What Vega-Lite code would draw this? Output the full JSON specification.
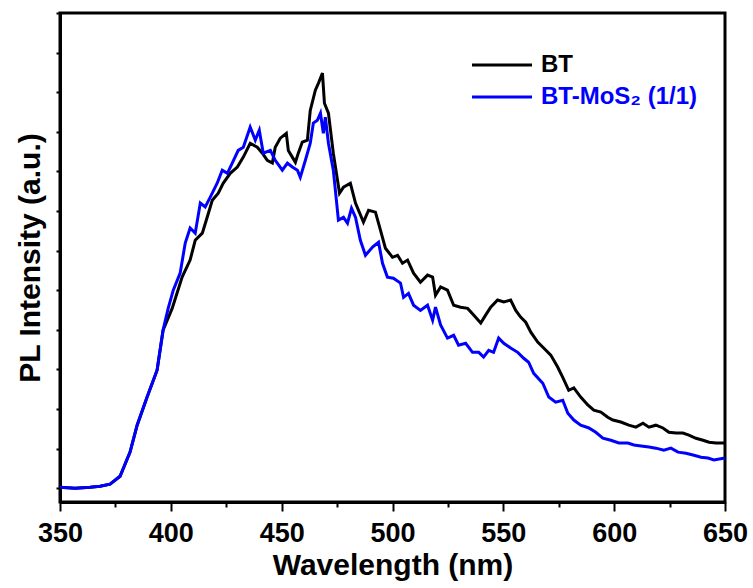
{
  "$schema": "https://vega.github.io/schema/vega-lite/v6.json",
  "width": 665,
  "height": 489,
  "autosize": {"type": "none"},
  "padding": {"left": 60, "top": 13, "right": 28, "bottom": 86},
  "background": "white",
  "config": {"view": {"stroke": "black", "strokeWidth": 3}, "font": "Liberation Sans"},
  "datasets": {
    "bt": [
      {"w":350,"i":2},{"w":356.8,"i":0},{"w":363.6,"i":2},{"w":368.1,"i":5},{"w":372.6,"i":10},{"w":377.1,"i":30},{"w":381.6,"i":91},{"w":384.8,"i":159},{"w":389.3,"i":230},{"w":393.8,"i":298},{"w":396.5,"i":399},{"w":400.6,"i":454},{"w":405.1,"i":533},{"w":408.7,"i":576},{"w":411,"i":626},{"w":414.2,"i":644},{"w":416.4,"i":684},{"w":418.7,"i":727},{"w":421.4,"i":745},{"w":423.6,"i":770},{"w":426.8,"i":795},{"w":430,"i":811},{"w":432.7,"i":836},{"w":435.8,"i":871},{"w":439,"i":861},{"w":441.3,"i":846},{"w":443.5,"i":828},{"w":445.8,"i":821},{"w":447.1,"i":861},{"w":449.4,"i":884},{"w":452.1,"i":896},{"w":453,"i":853},{"w":454.8,"i":836},{"w":456.2,"i":823},{"w":457.5,"i":846},{"w":459.3,"i":874},{"w":461.6,"i":879},{"w":462.9,"i":954},{"w":465.2,"i":1005},{"w":466.6,"i":1023},{"w":468.4,"i":1048},{"w":469.3,"i":972},{"w":471.1,"i":947},{"w":473.3,"i":846},{"w":476.1,"i":745},{"w":477.9,"i":760},{"w":481,"i":770},{"w":483.3,"i":720},{"w":486.9,"i":672},{"w":489.2,"i":702},{"w":492.3,"i":697},{"w":494.6,"i":651},{"w":496.8,"i":606},{"w":500,"i":583},{"w":502.3,"i":588},{"w":504.5,"i":568},{"w":506.8,"i":576},{"w":509.5,"i":543},{"w":512.6,"i":520},{"w":515.8,"i":538},{"w":518.1,"i":533},{"w":519.4,"i":487},{"w":521.7,"i":508},{"w":524.8,"i":500},{"w":527.6,"i":462},{"w":530.7,"i":457},{"w":533.9,"i":454},{"w":536.6,"i":437},{"w":539.8,"i":417},{"w":542,"i":437},{"w":544.3,"i":457},{"w":547.4,"i":475},{"w":550.2,"i":470},{"w":553.3,"i":475},{"w":555.6,"i":449},{"w":557.8,"i":432},{"w":560.1,"i":419},{"w":562.4,"i":394},{"w":565.5,"i":369},{"w":568.2,"i":354},{"w":571.4,"i":336},{"w":574.5,"i":306},{"w":576.8,"i":280},{"w":579.5,"i":247},{"w":581.8,"i":253},{"w":584.9,"i":230},{"w":588.1,"i":210},{"w":590.8,"i":197},{"w":594,"i":192},{"w":597.1,"i":179},{"w":599.4,"i":172},{"w":603,"i":167},{"w":606.6,"i":159},{"w":609.8,"i":154},{"w":613,"i":164},{"w":615.7,"i":154},{"w":618.8,"i":159},{"w":622,"i":152},{"w":624.7,"i":141},{"w":627.9,"i":139},{"w":631,"i":139},{"w":633.7,"i":134},{"w":636.9,"i":126},{"w":640.1,"i":121},{"w":642.8,"i":116},{"w":646,"i":114},{"w":650,"i":114}
    ],
    "mos": [
      {"w":350,"i":2},{"w":356.8,"i":0},{"w":363.6,"i":2},{"w":368.1,"i":5},{"w":372.6,"i":10},{"w":377.1,"i":30},{"w":381.6,"i":91},{"w":384.8,"i":159},{"w":389.3,"i":230},{"w":393.8,"i":298},{"w":396.5,"i":399},{"w":398.8,"i":454},{"w":401.1,"i":500},{"w":404.2,"i":543},{"w":406.5,"i":619},{"w":408.7,"i":657},{"w":411,"i":644},{"w":413.3,"i":720},{"w":415.5,"i":710},{"w":417.8,"i":735},{"w":420.9,"i":770},{"w":423.2,"i":803},{"w":425.5,"i":795},{"w":427.7,"i":821},{"w":430.4,"i":853},{"w":432.7,"i":861},{"w":435.8,"i":912},{"w":438.1,"i":879},{"w":439.9,"i":904},{"w":441.7,"i":846},{"w":444.9,"i":853},{"w":447.1,"i":828},{"w":450.3,"i":803},{"w":452.6,"i":821},{"w":454.8,"i":811},{"w":457.1,"i":803},{"w":458.4,"i":785},{"w":460.7,"i":828},{"w":462.9,"i":871},{"w":464.3,"i":922},{"w":466.1,"i":929},{"w":467.5,"i":947},{"w":468.8,"i":896},{"w":469.7,"i":937},{"w":471.1,"i":871},{"w":473.3,"i":803},{"w":475.6,"i":677},{"w":477.9,"i":684},{"w":479.7,"i":669},{"w":481.5,"i":707},{"w":483.3,"i":684},{"w":485.5,"i":626},{"w":487.8,"i":588},{"w":491,"i":609},{"w":493.7,"i":621},{"w":495.5,"i":568},{"w":497.7,"i":533},{"w":500.4,"i":530},{"w":503.6,"i":518},{"w":505,"i":482},{"w":507.2,"i":492},{"w":509.5,"i":462},{"w":512.6,"i":449},{"w":515.8,"i":462},{"w":518.1,"i":424},{"w":519.4,"i":457},{"w":521.7,"i":412},{"w":524.8,"i":379},{"w":527.6,"i":386},{"w":529.8,"i":361},{"w":533,"i":366},{"w":536.1,"i":343},{"w":538.9,"i":343},{"w":541.1,"i":331},{"w":543.4,"i":348},{"w":545.6,"i":343},{"w":547.9,"i":379},{"w":550.2,"i":366},{"w":553.3,"i":354},{"w":556.5,"i":343},{"w":559.2,"i":328},{"w":561.4,"i":318},{"w":563.7,"i":290},{"w":567.8,"i":265},{"w":570.5,"i":230},{"w":573.6,"i":217},{"w":576.8,"i":222},{"w":579.1,"i":189},{"w":581.8,"i":172},{"w":584.9,"i":159},{"w":588.6,"i":152},{"w":591.7,"i":141},{"w":594.9,"i":126},{"w":598.5,"i":121},{"w":602.1,"i":114},{"w":606.2,"i":114},{"w":608.9,"i":109},{"w":613,"i":106},{"w":615.7,"i":104},{"w":618.8,"i":101},{"w":622.4,"i":96},{"w":625.6,"i":101},{"w":628.8,"i":91},{"w":632.4,"i":88},{"w":636,"i":83},{"w":639.2,"i":78},{"w":642.3,"i":76},{"w":645,"i":71},{"w":650,"i":76}
    ]
  },
  "layer": [
    {
      "data": {"name": "bt"},
      "mark": {"type": "line", "strokeWidth": 3},
      "encoding": {
        "x": {"field": "w", "type": "quantitative"},
        "y": {"field": "i", "type": "quantitative"},
        "color": {"datum": "BT", "type": "nominal"}
      }
    },
    {
      "data": {"name": "mos"},
      "mark": {"type": "line", "strokeWidth": 3},
      "encoding": {
        "x": {"field": "w", "type": "quantitative"},
        "y": {"field": "i", "type": "quantitative"},
        "color": {"datum": "BT-MoS₂ (1/1)", "type": "nominal"}
      }
    }
  ],
  "encoding": {
    "x": {
      "field": "w", "type": "quantitative",
      "scale": {"domain": [350, 650], "nice": false, "zero": false},
      "axis": {
        "title": "Wavelength (nm)",
        "values": [350,375,400,425,450,475,500,525,550,575,600,625,650],
        "labelExpr": "datum.value % 50 === 0 ? datum.label : ''",
        "tickSize": {"condition": {"test": "datum.value % 50 === 0", "value": 9}, "value": 5},
        "grid": false, "domainColor": "black", "domainWidth": 3,
        "tickColor": "black", "tickWidth": 2,
        "labelFont": "Liberation Sans", "labelFontSize": 27, "labelFontWeight": "bold", "labelColor": "black",
        "labelPadding": 9, "labelFlush": false, "labelOverlap": false,
        "titleFont": "Liberation Sans", "titleFontSize": 30, "titleFontWeight": "bold", "titleColor": "black",
        "titlePadding": 4
      }
    },
    "y": {
      "field": "i", "type": "quantitative",
      "scale": {"domain": [-35, 1200], "nice": false, "zero": false},
      "axis": {
        "title": "PL Intensity (a.u.)",
        "values": [0,100,200,300,400,500,600,700,800,900,1000,1100,1200],
        "labels": false, "grid": false,
        "domainColor": "black", "domainWidth": 3,
        "tickColor": "black", "tickWidth": 2, "tickSize": 4,
        "titleFont": "Liberation Sans", "titleFontSize": 30, "titleFontWeight": "bold", "titleColor": "black",
        "titlePadding": 10
      }
    },
    "color": {
      "type": "nominal",
      "scale": {"domain": ["BT", "BT-MoS₂ (1/1)"], "range": ["#000000", "#0000ff"]},
      "legend": {
        "title": null, "orient": "none", "legendX": 430, "legendY": 40, "padding": 0,
        "symbolType": "M-3,0H3", "symbolSize": 400, "symbolStrokeWidth": 3,
        "labelFont": "Liberation Sans", "labelFontSize": 24, "labelFontWeight": "bold",
        "labelOffset": 27, "rowPadding": 8,
        "encode": {"labels": {"update": {"fill": {"signal": "datum.value === 'BT' ? '#000000' : '#0000ff'"}}}}
      }
    }
  }
}
